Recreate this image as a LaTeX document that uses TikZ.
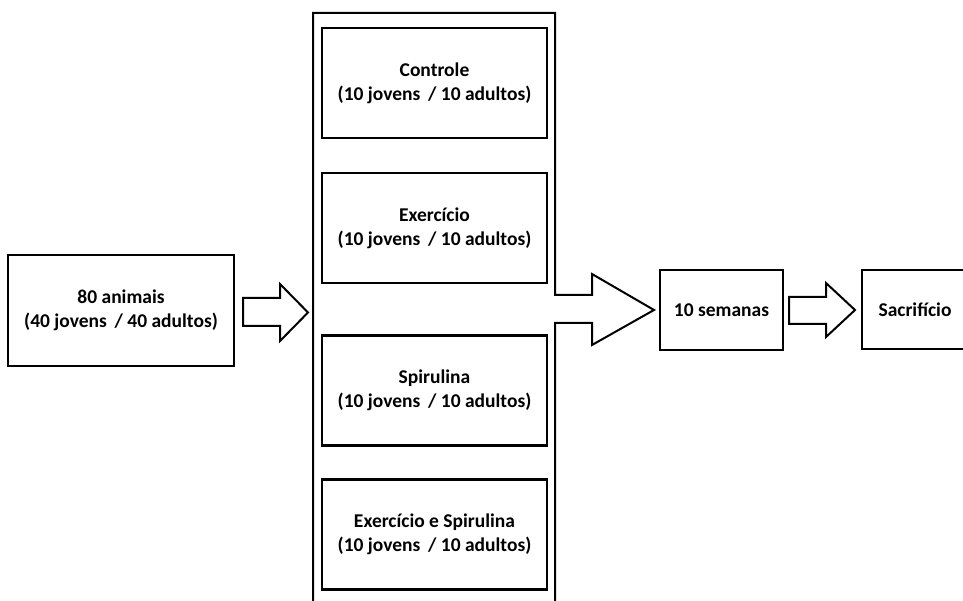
\documentclass[tikz,border=0pt]{standalone}
\usepackage{fontspec}
\setmainfont{Carlito}
\begin{document}
\begin{tikzpicture}[x=1pt,y=-1pt,
  box/.style={draw, line width=2.4pt, align=center, inner sep=0pt,
    font=\fontsize{19.5}{24}\selectfont\bfseries},
  blockarrow/.style={draw, line width=2pt, line join=miter, fill=white}]
\useasboundingbox (0,0) rectangle (963,601);
% left box
\node[box, minimum width=226pt, minimum height=111pt] (animais) at (121,310.5)
  {80 animais\\(40 jovens \,/ 40 adultos)};
% container
\draw[line width=2pt, line join=miter]
  (313,603) -- (313,13) -- (555,13) -- (555,295) -- (592,295) -- (592,274)
  -- (654,310) -- (592,345) -- (592,323) -- (555,323) -- (555,603);
\coordinate (containerleft) at (313,312);
% inner boxes
\node[box, minimum width=225pt, minimum height=110pt] (controle) at (434.5,83)
  {Controle\\(10 jovens \,/ 10 adultos)};
\node[box, minimum width=225pt, minimum height=110pt] (exercicio) at (434.5,228)
  {Exercício\\(10 jovens \,/ 10 adultos)};
\node[box, minimum width=225pt, minimum height=110pt] (spirulina) at (434.5,390.5)
  {Spirulina\\(10 jovens \,/ 10 adultos)};
\node[box, minimum width=225pt, minimum height=110pt] (ambos) at (434.5,534.5)
  {Exercício e Spirulina\\(10 jovens \,/ 10 adultos)};
% right boxes
\node[box, minimum width=123pt, minimum height=80pt] (semanas) at (721.5,310)
  {10 semanas};
\node[box, minimum width=106pt, minimum height=79pt] (sacrificio) at (915,309.5)
  {Sacrifício};
% block arrows
\draw[blockarrow] (243,298) -- (280,298) -- (280,284) -- (308,312.5)
  -- (280,341) -- (280,326) -- (243,326) -- cycle;
\draw[blockarrow] (789,297) -- (826,297) -- (826,283) -- (855,310)
  -- (826,337) -- (826,324) -- (789,324) -- cycle;
\end{tikzpicture}
\end{document}
